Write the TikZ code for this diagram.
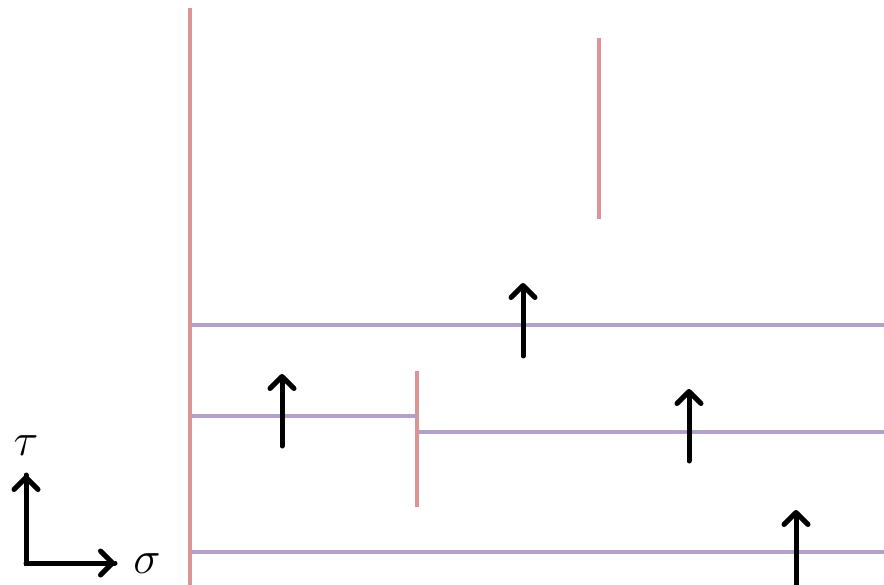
\documentclass[tikz,border=0pt]{standalone}
\usetikzlibrary{arrows.meta}
\definecolor{wallred}{RGB}{220,148,148}
\definecolor{stringpurple}{RGB}{178,160,202}
\tikzset{
  wall/.style={draw=wallred, line width=4.8pt},
  strand/.style={draw=stringpurple, line width=4.8pt},
  flow/.style={draw=black, line width=5pt, -{Straight Barb[length=12pt,width=24pt,line width=5pt,round]}, line cap=round},
  lbl/.style={inner sep=0pt, font=\Huge, scale=1.85}
}
\begin{document}
\begin{tikzpicture}[x=1pt,y=-1pt]
\useasboundingbox (0,0) rectangle (884,585);
% walls
\coordinate (w1t) at (190,8); \coordinate (w1b) at (190,585);
\coordinate (w2t) at (599,38); \coordinate (w2b) at (599,219);
\coordinate (w3t) at (417,371); \coordinate (w3b) at (417,507);
\draw[wall] (w1t) -- (w1b);
\draw[wall] (w2t) -- (w2b);
\draw[wall] (w3t) -- (w3b);
% strands
\coordinate (s1a) at (192,325); \coordinate (s1b) at (884,325);
\coordinate (s2a) at (192,416); \coordinate (s2b) at (417,416);
\coordinate (s3a) at (419,432); \coordinate (s3b) at (884,432);
\coordinate (s4a) at (192,552); \coordinate (s4b) at (884,552);
\draw[strand] (s1a) -- (s1b);
\draw[strand] (s2a) -- (s2b);
\draw[strand] (s3a) -- (s3b);
\draw[strand] (s4a) -- (s4b);
% flow arrows
\coordinate (a1s) at (523,356); \coordinate (a1e) at (523,283);
\coordinate (a2s) at (282,446); \coordinate (a2e) at (282,374);
\coordinate (a3s) at (689,461); \coordinate (a3e) at (689,389);
\coordinate (a4s) at (796,585); \coordinate (a4e) at (796,510);
\draw[flow] (a1s) -- (a1e);
\draw[flow] (a2s) -- (a2e);
\draw[flow] (a3s) -- (a3e);
\draw[flow] (a4s) -- (a4e);
% axes
\coordinate (o) at (26,563);
\coordinate (ty) at (26,475);
\coordinate (sx) at (115,563);
\draw[flow, -, line join=miter] (ty) -- (o) -- (sx);
\draw[flow] (o) -- (ty);
\draw[flow] (o) -- (sx);
\node[lbl] (tau) at (26,446) {$\tau$};
\node[lbl] (sigma) at (147,564) {$\sigma$};
\end{tikzpicture}
\end{document}
